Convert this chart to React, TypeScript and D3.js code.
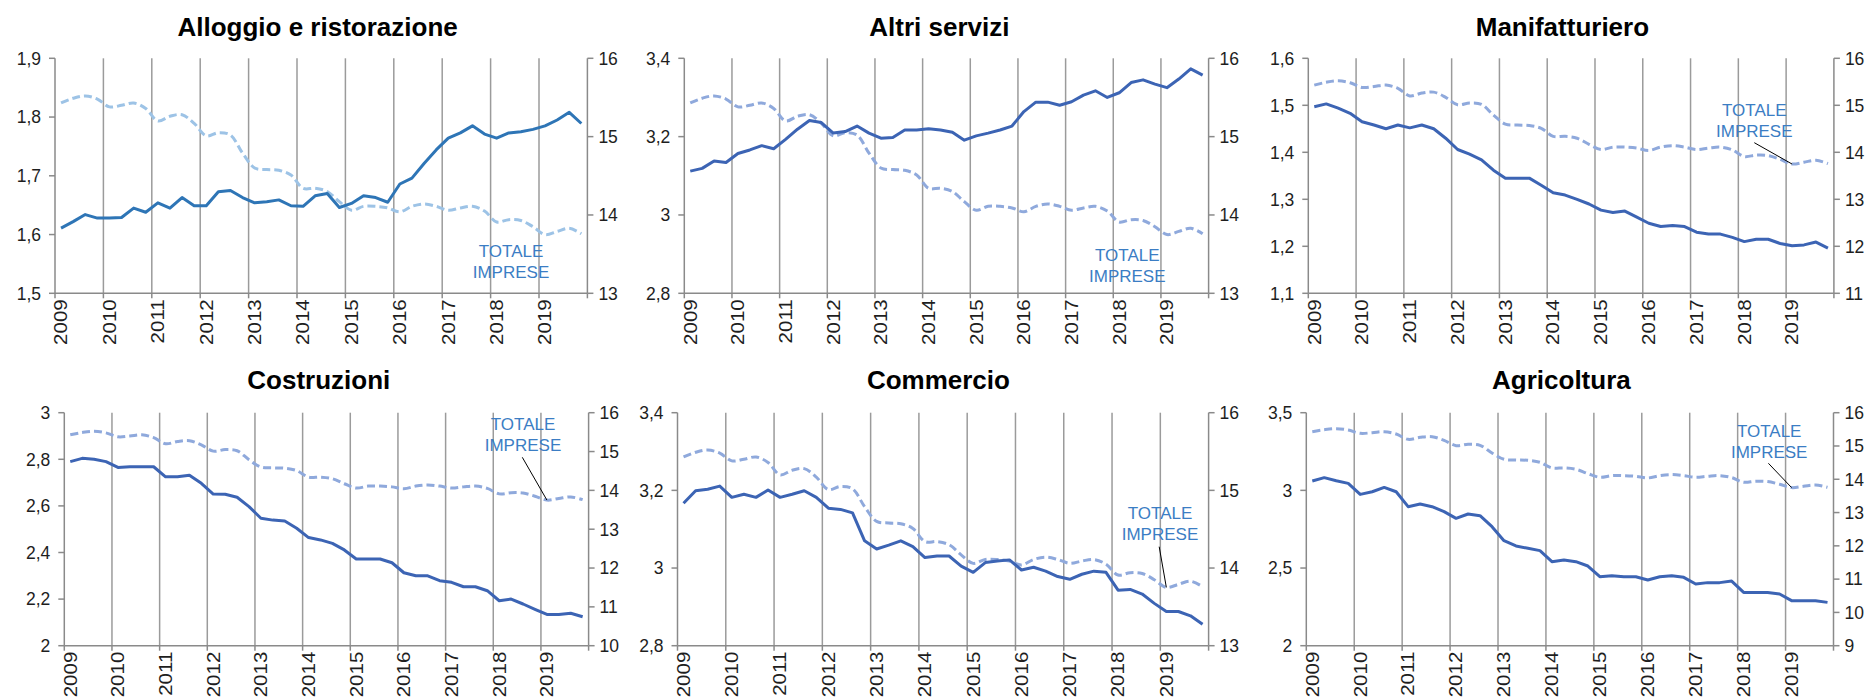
import React from "react";
import * as d3 from "d3";

// ---------- DATA ----------
const years = ["2009", "2010", "2011", "2012", "2013", "2014", "2015", "2016", "2017", "2018", "2019"];
const QUARTERS_PER_YEAR = 4;

// right axis series (same in every panel)
const totaleImprese = [
  15.43, 15.49, 15.52, 15.48, 15.38, 15.4, 15.43, 15.36, 15.2, 15.26, 15.28, 15.17,
  15.01, 15.05, 15.02, 14.79, 14.6, 14.58, 14.57, 14.51, 14.34, 14.34, 14.3, 14.17,
  14.06, 14.11, 14.11, 14.09, 14.04, 14.11, 14.14, 14.11, 14.06, 14.09, 14.11, 14.05,
  13.91, 13.94, 13.93, 13.85, 13.75, 13.79, 13.83, 13.76,
];

const alloggio = [
  1.611, 1.622, 1.634, 1.628, 1.628, 1.629, 1.645, 1.638, 1.654, 1.645, 1.663, 1.649,
  1.649, 1.673, 1.675, 1.663, 1.654, 1.656, 1.659, 1.649, 1.648, 1.666, 1.67, 1.646,
  1.653, 1.666, 1.663, 1.655, 1.686, 1.696, 1.721, 1.744, 1.764, 1.773, 1.785, 1.771,
  1.764, 1.773, 1.775, 1.779, 1.785, 1.795, 1.808, 1.789,
];

const altriServizi = [
  3.112, 3.119, 3.138, 3.134, 3.157, 3.166, 3.177, 3.169, 3.193, 3.219, 3.241, 3.236,
  3.209, 3.213, 3.227, 3.209, 3.196, 3.198, 3.217, 3.217, 3.22, 3.217, 3.211, 3.191,
  3.202, 3.209, 3.217, 3.227, 3.264, 3.288, 3.288, 3.28, 3.289, 3.306, 3.317, 3.3,
  3.312, 3.338, 3.345, 3.334, 3.325, 3.347, 3.373, 3.357,
];

const manifatturiero = [
  1.497, 1.503, 1.494, 1.483, 1.465, 1.458, 1.45, 1.458, 1.452, 1.458, 1.45, 1.43,
  1.406, 1.396, 1.384, 1.362, 1.345, 1.345, 1.345, 1.33, 1.314, 1.309, 1.3, 1.29,
  1.277, 1.272, 1.275, 1.262, 1.249, 1.242, 1.244, 1.242, 1.23, 1.226, 1.226, 1.219,
  1.21, 1.215, 1.215, 1.206, 1.201, 1.203, 1.209, 1.196,
];

const costruzioni = [
  2.79, 2.804, 2.8, 2.79, 2.765, 2.768, 2.768, 2.768, 2.725, 2.725, 2.732, 2.697,
  2.651, 2.65, 2.637, 2.597, 2.547, 2.539, 2.535, 2.504, 2.464, 2.454, 2.439, 2.411,
  2.372, 2.372, 2.372, 2.356, 2.313, 2.3, 2.3, 2.279, 2.272, 2.253, 2.253, 2.236,
  2.193, 2.2, 2.179, 2.156, 2.134, 2.134, 2.139, 2.124,
];

const commercio = [
  3.167, 3.199, 3.203, 3.211, 3.182, 3.19, 3.182, 3.201, 3.182, 3.19, 3.199, 3.182,
  3.154, 3.151, 3.142, 3.07, 3.049, 3.059, 3.07, 3.055, 3.027, 3.031, 3.031, 3.005,
  2.989, 3.014, 3.018, 3.021, 2.995, 3.002, 2.992, 2.978, 2.971, 2.984, 2.992, 2.989,
  2.943, 2.945, 2.933, 2.909, 2.888, 2.888, 2.877, 2.855,
];

const agricoltura = [
  3.06, 3.082, 3.062, 3.045, 2.974, 2.991, 3.019, 2.991, 2.895, 2.912, 2.895, 2.863,
  2.82, 2.848, 2.837, 2.766, 2.676, 2.642, 2.627, 2.612, 2.541, 2.552, 2.541, 2.513,
  2.444, 2.451, 2.444, 2.444, 2.423, 2.444, 2.451, 2.44, 2.397, 2.406, 2.406, 2.416,
  2.343, 2.343, 2.343, 2.333, 2.29, 2.29, 2.29, 2.279,
];

const titles = ["Alloggio e ristorazione", "Altri servizi", "Manifatturiero", "Costruzioni", "Commercio", "Agricoltura"];
const sectorSeries = [alloggio, altriServizi, manifatturiero, costruzioni, commercio, agricoltura];

const leftTicks = [
  [1.5, 1.6, 1.7, 1.8, 1.9],
  [2.8, 3.0, 3.2, 3.4],
  [1.1, 1.2, 1.3, 1.4, 1.5, 1.6],
  [2.0, 2.2, 2.4, 2.6, 2.8, 3.0],
  [2.8, 3.0, 3.2, 3.4],
  [2.0, 2.5, 3.0, 3.5],
];
const rightTicks = [
  [13, 14, 15, 16],
  [13, 14, 15, 16],
  [11, 12, 13, 14, 15, 16],
  [10, 11, 12, 13, 14, 15, 16],
  [13, 14, 15, 16],
  [9, 10, 11, 12, 13, 14, 15, 16],
];
const annotationLines = ["TOTALE", "IMPRESE"];
const LEADER_INDEX = 40;

// ---------- LAYOUT / STYLE ----------
const W = 1865;
const H = 699;
const ROW1 = { t: 58.3, b: 293.3, titleY: 35.5 };
const ROW2 = { t: 412.7, b: 645.7, titleY: 388.5 };

const panels = [
  { l: 55, r: 587.4, row: ROW1, tx: 317.6, solid: "#2E75B6", dash: "#9DC3E6",
    ann: { x: 511, y: 250.7, leader: null } },
  { l: 684.3, r: 1208.6, row: ROW1, tx: 939.4, solid: "#3C64B4", dash: "#8FA9DC",
    ann: { x: 1127.3, y: 255, leader: null } },
  { l: 1308.3, r: 1833.9, row: ROW1, tx: 1562.4, solid: "#3C64B4", dash: "#8FA9DC",
    ann: { x: 1754.3, y: 110, leader: [1754.3, 142.7] } },
  { l: 64.3, r: 588.6, row: ROW2, tx: 318.8, solid: "#3C64B4", dash: "#8FA9DC",
    ann: { x: 523, y: 424, leader: [522.3, 457.3] } },
  { l: 677.5, r: 1208.6, row: ROW2, tx: 938.4, solid: "#3C64B4", dash: "#8FA9DC",
    ann: { x: 1160, y: 513.3, leader: [1159.2, 546.7] } },
  { l: 1306.3, r: 1833.5, row: ROW2, tx: 1561.4, solid: "#3C64B4", dash: "#8FA9DC",
    ann: { x: 1769.2, y: 430.7, leader: [1768.4, 463.3] } },
];

const FONT = "'Liberation Sans', Arial, Helvetica, sans-serif";
const GRID = "#9b9b9b";
const AXIS = "#8a8a8a";
const LABEL = "#1e1e1e";
const ANN = "#3B7DC4";

const fmt = (v: number) => String(+v.toFixed(2)).replace(".", ",");

function Panel({ idx }: { idx: number }) {
  const p = panels[idx];
  const nCat = years.length * QUARTERS_PER_YEAR;
  const x = d3.scaleLinear().domain([0, nCat]).range([p.l, p.r]);
  const lt = leftTicks[idx];
  const rt = rightTicks[idx];
  const yL = d3.scaleLinear().domain([lt[0], lt[lt.length - 1]]).range([p.row.b, p.row.t]);
  const yR = d3.scaleLinear().domain([rt[0], rt[rt.length - 1]]).range([p.row.b, p.row.t]);
  const data = sectorSeries[idx];

  const solidLine = d3
    .line<number>()
    .x((_, i) => x(i + 0.5))
    .y((d) => yL(d))
    .curve(d3.curveLinear);
  const dashLine = d3
    .line<number>()
    .x((_, i) => x(i + 0.5))
    .y((d) => yR(d))
    .curve(d3.curveCatmullRom.alpha(0.5));

  const boundaries = d3.range(0, years.length + 1).map((k) => k * QUARTERS_PER_YEAR);
  const { t, b } = p.row;

  const leaderEnd = p.ann.leader
    ? [x(LEADER_INDEX + 0.5), yR(totaleImprese[LEADER_INDEX])]
    : null;

  return (
    <g>
      <text
        x={p.tx}
        y={p.row.titleY}
        textAnchor="middle"
        fontFamily={FONT}
        fontWeight="bold"
        fontSize={26}
        fill="#000"
      >
        {titles[idx]}
      </text>
      {/* vertical gridlines at year boundaries */}
      {boundaries.map((k) => (
        <line key={"g" + k} x1={x(k)} x2={x(k)} y1={t} y2={b} stroke={k === 0 || k === nCat ? AXIS : GRID} strokeWidth={1.5} />
      ))}
      {/* bottom axis */}
      <line x1={p.l} x2={p.r} y1={b} y2={b} stroke={AXIS} strokeWidth={1.5} />
      {boundaries.map((k) => (
        <line key={"bt" + k} x1={x(k)} x2={x(k)} y1={b} y2={b + 5} stroke={AXIS} strokeWidth={1.5} />
      ))}
      {/* left ticks */}
      {lt.map((v) => (
        <g key={"lt" + v}>
          <line x1={p.l - 6} x2={p.l} y1={yL(v)} y2={yL(v)} stroke={AXIS} strokeWidth={1.5} />
          <text x={p.l - 14} y={yL(v)} dy="0.36em" textAnchor="end" fontFamily={FONT} fontSize={17.5} fill={LABEL}>
            {fmt(v)}
          </text>
        </g>
      ))}
      {/* right ticks */}
      {rt.map((v) => (
        <g key={"rt" + v}>
          <line x1={p.r} x2={p.r + 6} y1={yR(v)} y2={yR(v)} stroke={AXIS} strokeWidth={1.5} />
          <text x={p.r + 11} y={yR(v)} dy="0.36em" textAnchor="start" fontFamily={FONT} fontSize={17.5} fill={LABEL}>
            {fmt(v)}
          </text>
        </g>
      ))}
      {/* x labels */}
      {years.map((yr, k) => {
        const cx = x(k * QUARTERS_PER_YEAR + 0.5);
        const cy = b + 6;
        return (
          <text
            key={"xl" + yr}
            x={0}
            y={0}
            dy="0.36em"
            textAnchor="end"
            transform={`translate(${cx}, ${cy}) rotate(-90) scale(1, 0.85)`}
            fontFamily={FONT}
            fontSize={20.5}
            fill={LABEL}
          >
            {yr}
          </text>
        );
      })}
      {/* series */}
      <path d={dashLine(totaleImprese) || ""} fill="none" stroke={p.dash} strokeWidth={3} strokeDasharray="8,4" />
      <path d={solidLine(data) || ""} fill="none" stroke={p.solid} strokeWidth={3} strokeLinejoin="round" />
      {/* annotation */}
      {annotationLines.map((s, i) => (
        <text
          key={"an" + i}
          x={p.ann.x}
          y={p.ann.y + i * 21}
          dy="0.36em"
          textAnchor="middle"
          fontFamily={FONT}
          fontSize={17}
          fill={ANN}
        >
          {s}
        </text>
      ))}
      {p.ann.leader && leaderEnd && (
        <line
          x1={p.ann.leader[0]}
          y1={p.ann.leader[1]}
          x2={leaderEnd[0]}
          y2={leaderEnd[1]}
          stroke="#000"
          strokeWidth={1}
        />
      )}
    </g>
  );
}

export default function App() {
  return (
    <div style={{ position: "absolute", left: 0, top: 0, width: W, height: H, background: "#fff" }}>
      <svg width={W} height={H} viewBox={`0 0 ${W} ${H}`} style={{ display: "block", overflow: "hidden" }}>
        <rect x={0} y={0} width={W} height={H} fill="#fff" />
        {panels.map((_, i) => (
          <Panel key={i} idx={i} />
        ))}
      </svg>
    </div>
  );
}
